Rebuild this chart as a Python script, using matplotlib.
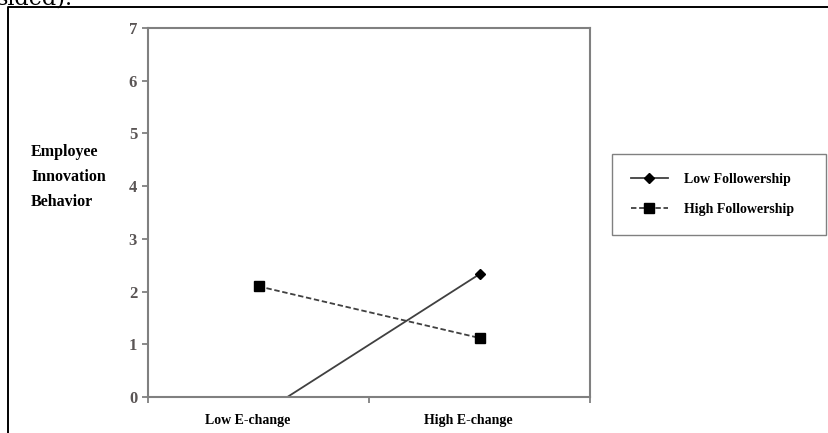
import matplotlib.pyplot as plt
from matplotlib.lines import Line2D

plt.rcParams['font.family'] = 'Liberation Serif'

# data
groups = ['Low E-change', 'High E-change']
group_x = [1, 3]
low_follow = [-0.35, 2.33]
high_follow = [2.1, 1.12]
y_ticks = [0, 1, 2, 3, 4, 5, 6, 7]

W, H = 829, 433
fig = plt.figure(figsize=(W / 100, H / 100), dpi=100)

# outer frame of the figure (only left and top visible)
fx, fy = 8 / W, 1 - 7 / H
fig.add_artist(Line2D([fx, fx, 1.01], [-0.01, fy, fy], transform=fig.transFigure,
                      color='black', lw=1.4))
# cut-off text above the frame
fig.text(-3 / W, 1 - 5 / H, 'sided).', fontsize=16, family='DejaVu Serif',
         va='baseline', ha='left')

ax = fig.add_axes([148 / W, 36 / H, 442 / W, 369 / H])
gray = '#808080'
line_col = '#404040'

ax.plot(group_x, low_follow, '-', color=line_col, lw=1.3,
        marker='D', markersize=5, markerfacecolor='black', markeredgecolor='black',
        label='Low Followership')
ax.plot(group_x, high_follow, '--', color=line_col, lw=1.3, dashes=(3, 1.5),
        marker='s', markersize=6.5, markerfacecolor='black', markeredgecolor='black',
        label='High Followership')

ax.set_xlim(0, 4)
ax.set_ylim(0, 7)
ax.set_yticks(y_ticks)
ax.set_yticklabels([str(v) for v in y_ticks], fontweight='bold', color='#5a5555', fontsize=12)
ax.set_xticks([0, 2, 4])
ax.set_xticklabels([])
# category labels sit a little left of the points in the original
ax.set_xticks([g - 0.1 for g in group_x], minor=True)
ax.set_xticklabels(groups, minor=True, fontweight='bold', fontsize=10)
ax.tick_params(axis='x', which='minor', length=0, pad=12)
ax.tick_params(axis='both', which='major', length=4.3, width=1.3, color=gray, pad=3.5)
for s in ax.spines.values():
    s.set_color(gray)
    s.set_linewidth(1.5)

fig.text(31 / W, 1 - 177 / H, 'Employee\nInnovation\nBehavior', fontsize=11.5,
         fontweight='bold', va='center', ha='left', linespacing=1.78,
         transform=fig.transFigure)

leg = fig.legend(loc='upper left', bbox_to_anchor=(612 / W, 1 - 154 / H, 214 / W, 0),
                 mode='expand', bbox_transform=fig.transFigure, frameon=True,
                 fancybox=False, edgecolor='#606060', prop={'weight': 'bold', 'size': 10},
                 handlelength=2.7, borderpad=1.35, labelspacing=1.25,
                 handletextpad=1.1, borderaxespad=0)
leg.get_frame().set_linewidth(1.0)

fig.savefig('out.png', dpi=100)
